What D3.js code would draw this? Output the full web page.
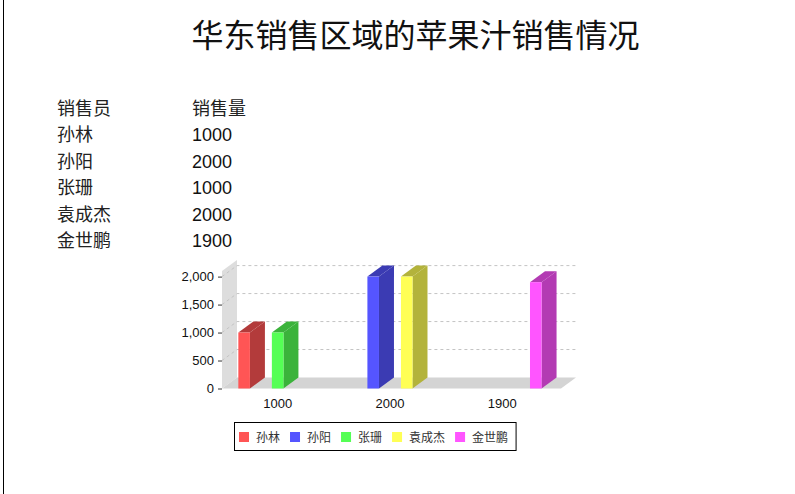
<!DOCTYPE html>
<html>
<head>
<meta charset="utf-8">
<script src="https://cdn.jsdelivr.net/npm/d3@7"></script>
<style>
  body { margin: 0; background: #fff; }
  svg { display: block; }
  text { font-family: "Liberation Sans", Arial, "Noto Sans CJK SC", sans-serif; }
</style>
</head>
<body>
<div id="chart"></div>
<script>
var salesmen = ["孙林", "孙阳", "张珊", "袁成杰", "金世鹏"];
var sales = [1000, 2000, 1000, 2000, 1900];
var categories = ["1000", "2000", "1900"];
var yTicks = [0, 500, 1000, 1500, 2000];
var seriesColors = ["#FF5555", "#5555FF", "#55FF55", "#FFFF55", "#FF55FF"];

var W = 795, H = 494;
var dx = 15, dy = 11;

var svg = d3.select("#chart").append("svg")
    .attr("width", W)
    .attr("height", H);

// left page border
svg.append("line")
    .attr("x1", 3.5).attr("x2", 3.5)
    .attr("y1", 0).attr("y2", H)
    .attr("stroke", "#000");

svg.append("text")
    .attr("x", 415.5)
    .attr("y", 47)
    .attr("text-anchor", "middle")
    .style("font-size", "32px")
    .style("fill", "#111")
    .text("华东销售区域的苹果汁销售情况");

// table above chart
var table = svg.append("g");
var rowY = function(i) { return 114.5 + i * 26.5; };
table.append("text").attr("x", 57).attr("y", rowY(0))
    .style("font-size", "18px").style("fill", "#222").text("销售员");
table.append("text").attr("x", 192).attr("y", rowY(0))
    .style("font-size", "18px").style("fill", "#222").text("销售量");
salesmen.forEach(function(name, i) {
  table.append("text").attr("x", 57).attr("y", rowY(i + 1))
      .style("font-size", "18px").style("fill", "#222").text(name);
  table.append("text").attr("x", 192).attr("y", rowY(i + 1))
      .style("font-size", "18px").style("fill", "#111").text(sales[i]);
});

// 3D bar chart
var x0 = 222, x1 = 561;
var y = d3.scaleLinear().domain([0, 2100]).range([388.5, 271]);

var cat = d3.scaleBand()
    .domain(categories)
    .range([221.5, 558.4])
    .paddingInner(0.3)
    .paddingOuter(0.15);

var ser = d3.scaleBand()
    .domain(salesmen)
    .range([0, cat.bandwidth()])
    .paddingInner(0.31);

var plot = svg.append("g");

// left wall
plot.append("polygon")
    .attr("points", [
      [x0, y(0)], [x0, y(2100)], [x0 + dx, y(2100) - dy], [x0 + dx, y(0) - dy]
    ].join(" "))
    .attr("fill", "#DDDDDD");

// floor
plot.append("polygon")
    .attr("points", [
      [x0, y(0)], [x0 + dx, y(0) - dy], [x1 + dx, y(0) - dy], [x1, y(0)]
    ].join(" "))
    .attr("fill", "#D4D4D4");

// gridlines
plot.selectAll(".grid")
    .data(yTicks.slice(1))
    .enter().append("polyline")
    .attr("class", "grid")
    .attr("points", function(d) {
      return [[x0, y(d)], [x0 + dx, y(d) - dy], [x1 + dx, y(d) - dy]].join(" ");
    })
    .attr("fill", "none")
    .attr("stroke", "#C4C4C4")
    .attr("stroke-width", 1)
    .attr("stroke-dasharray", "3,3");

var bars = salesmen.map(function(name, i) {
  return { name: name, cat: String(sales[i]), value: sales[i], color: seriesColors[i] };
});

var bar = plot.selectAll(".bar")
    .data(bars)
    .enter().append("g")
    .attr("class", "bar");

bar.each(function(d) {
  var g = d3.select(this);
  var bx = cat(d.cat) + ser(d.name), bw = ser.bandwidth();
  var top = y(d.value), bot = y(0);
  var dark = d3.rgb(d.color).darker(1).toString();
  g.append("polygon")
      .attr("points", [[bx + bw, top], [bx + bw + dx, top - dy], [bx + bw + dx, bot - dy], [bx + bw, bot]].join(" "))
      .attr("fill", dark);
  g.append("polygon")
      .attr("points", [[bx, top], [bx + dx, top - dy], [bx + bw + dx, top - dy], [bx + bw, top]].join(" "))
      .attr("fill", dark);
  g.append("rect")
      .attr("x", bx).attr("y", top)
      .attr("width", bw).attr("height", bot - top)
      .attr("fill", d.color);
});

// y axis
var yAxis = svg.append("g")
    .attr("transform", "translate(" + x0 + ",0)")
    .call(d3.axisLeft(y).tickValues(yTicks).tickSize(4).tickPadding(4).tickFormat(d3.format(",")));
yAxis.select(".domain").remove();
yAxis.selectAll("text").style("font-size", "13px").style("fill", "#111").style("font-family", "Liberation Sans, Arial, sans-serif");
yAxis.selectAll("line").attr("stroke", "#333");

// category axis
var xAxis = svg.append("g")
    .attr("transform", "translate(0," + y(0) + ")")
    .call(d3.axisBottom(cat).tickSize(0).tickPadding(10));
xAxis.select(".domain").remove();
xAxis.selectAll("text").style("font-size", "13px").style("fill", "#111").style("font-family", "Liberation Sans, Arial, sans-serif");

// legend
var legend = svg.append("g");
var lx = 239;
salesmen.forEach(function(name, i) {
  var it = legend.append("g");
  it.append("rect")
      .attr("x", lx).attr("y", 432)
      .attr("width", 10).attr("height", 10)
      .attr("fill", seriesColors[i]);
  var t = it.append("text")
      .attr("x", lx + 17).attr("y", 441.5)
      .style("font-size", "12px").style("fill", "#333")
      .text(name);
  lx += 17 + t.node().getComputedTextLength() + 10;
});
legend.insert("rect", ":first-child")
    .attr("x", 234.5).attr("y", 422.5)
    .attr("width", lx - 2 - 234.5).attr("height", 28)
    .attr("fill", "#fff")
    .attr("stroke", "#000")
    .attr("stroke-width", 1);
</script>
</body>
</html>
